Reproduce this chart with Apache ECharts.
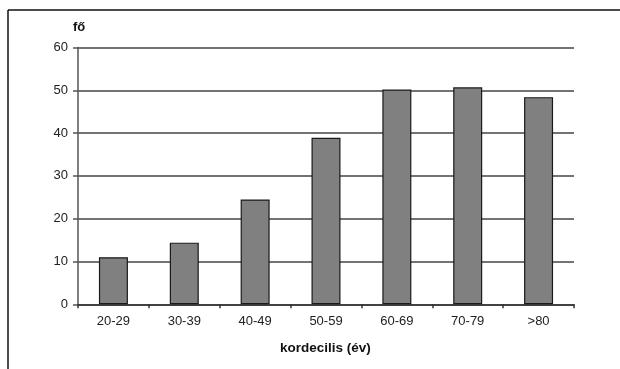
<!DOCTYPE html>
<html>
<head>
<meta charset="utf-8">
<script src="https://cdn.jsdelivr.net/npm/echarts@6/dist/echarts.min.js"></script>
<style>
html,body{margin:0;padding:0;background:#fff;}
#c{width:620px;height:369px;}
</style>
</head>
<body>
<div id="c"></div>
<script>
const categories = ['20-29', '30-39', '40-49', '50-59', '60-69', '70-79', '>80'];
const values = [11.0, 14.4, 24.5, 38.9, 50.2, 50.7, 48.4];
const yTicks = [0, 10, 20, 30, 40, 50, 60];
const yUnit = 'fő';
const xTitle = 'kordecilis (év)';

const chart = echarts.init(document.getElementById('c'), null, {renderer: 'canvas'});
const font = '"Liberation Sans", Arial, sans-serif';
chart.setOption({
  backgroundColor: '#ffffff',
  animation: false,
  grid: {left: 78, right: 46, top: 47.5, bottom: 64.7, containLabel: false},
  xAxis: {
    type: 'category',
    data: categories,
    axisLine: {show: true, lineStyle: {color: '#333', width: 1.5}},
    axisTick: {show: true, alignWithLabel: false, length: 4, lineStyle: {color: '#333', width: 1.5}},
    axisLabel: {color: '#222', fontSize: 13, fontFamily: font, margin: 11},
    splitLine: {show: false}
  },
  yAxis: {
    type: 'value',
    min: yTicks[0],
    max: yTicks[yTicks.length - 1],
    interval: 10,
    axisLine: {show: true, lineStyle: {color: '#555', width: 1.5}},
    axisTick: {show: true, length: 5, lineStyle: {color: '#555', width: 1.5}},
    axisLabel: {color: '#222', fontSize: 13, fontFamily: font, margin: 10},
    splitLine: {show: true, lineStyle: {color: '#444', width: 1.5}}
  },
  series: [{
    type: 'bar',
    data: values,
    barWidth: 29,
    itemStyle: {color: '#808080', borderColor: '#1a1a1a', borderWidth: 1.2}
  }],
  graphic: [
    {type: 'line', shape: {x1: 8, y1: 10, x2: 620, y2: 10}, style: {stroke: '#111', lineWidth: 1.5}},
    {type: 'line', shape: {x1: 8, y1: 10, x2: 8, y2: 369}, style: {stroke: '#111', lineWidth: 1.5}},
    {type: 'text', left: 73, top: 21, style: {text: yUnit, font: 'bold 13px ' + font, fill: '#111'}},
    {type: 'text', left: 280, top: 341, style: {text: xTitle, font: 'bold 13.5px ' + font, fill: '#111'}}
  ]
});
</script>
</body>
</html>
